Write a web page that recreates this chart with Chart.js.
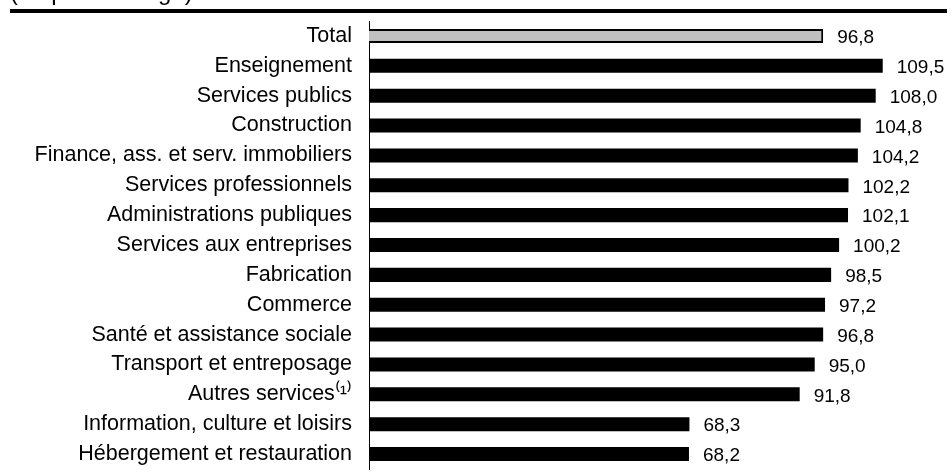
<!DOCTYPE html>
<html lang="fr">
<head>
<meta charset="utf-8">
<title>Indice par industrie</title>
<script src="https://cdn.jsdelivr.net/npm/chart.js@4.4.0/dist/chart.umd.min.js"></script>
<style>
    html, body { margin: 0; padding: 0; background: #fff; }
    #wrap { position: relative; width: 952px; height: 473px; }
</style>
</head>
<body>
<div id="wrap"><canvas id="chart"></canvas></div>
<script>
// Data
const titleText = '(en pourcentage)';
const categories = [
    'Total',
    'Enseignement',
    'Services publics',
    'Construction',
    'Finance, ass. et serv. immobiliers',
    'Services professionnels',
    'Administrations publiques',
    'Services aux entreprises',
    'Fabrication',
    'Commerce',
    'Santé et assistance sociale',
    'Transport et entreposage',
    'Autres services⁽¹⁾',
    'Information, culture et loisirs',
    'Hébergement et restauration'
];
const values = [96.8, 109.5, 108.0, 104.8, 104.2, 102.2, 102.1, 100.2, 98.5, 97.2, 96.8, 95.0, 91.8, 68.3, 68.2];

const FONT = "'Liberation Sans', Arial, sans-serif";

// Title (cut off at the top) and thick rule under it
const headerPlugin = {
    id: 'header',
    beforeDraw(chart) {
        const ctx = chart.ctx;
        ctx.save();
        ctx.fillStyle = '#000';
        ctx.font = '24px ' + FONT;
        ctx.textBaseline = 'alphabetic';
        ctx.textAlign = 'left';
        ctx.fillText(titleText, 10, 0);
        ctx.fillRect(10, 9, 937, 4);
        ctx.restore();
    }
};

// Value labels at the end of each bar, French decimal comma
const valueLabels = {
    id: 'valueLabels',
    afterDatasetsDraw(chart) {
        const ctx = chart.ctx;
        const meta = chart.getDatasetMeta(0);
        ctx.save();
        ctx.fillStyle = '#000';
        ctx.font = '19px ' + FONT;
        ctx.textBaseline = 'middle';
        ctx.textAlign = 'left';
        meta.data.forEach((bar, i) => {
            const txt = values[i].toFixed(1).replace('.', ',');
            ctx.fillText(txt, bar.x + 14, bar.y + 2);
        });
        ctx.restore();
    }
};

document.addEventListener('DOMContentLoaded', () => {
    const ctx = document.getElementById('chart').getContext('2d');
    new Chart(ctx, {
        type: 'bar',
        data: {
            labels: categories,
            datasets: [{
                data: values,
                backgroundColor: values.map((v, i) => i === 0 ? '#c0c0c0' : '#000000'),
                borderColor: '#000000',
                borderWidth: values.map((v, i) => i === 0 ? 2 : 0),
                barPercentage: 0.47,
                categoryPercentage: 1
            }]
        },
        options: {
            indexAxis: 'y',
            responsive: true,
            maintainAspectRatio: false,
            animation: false,
            layout: {
                padding: { top: 21, bottom: 4, left: 0, right: 20 }
            },
            plugins: {
                legend: { display: false },
                tooltip: { enabled: false }
            },
            scales: {
                x: {
                    display: false,
                    min: 0,
                    max: 120
                },
                y: {
                    afterFit(scale) {
                        scale.width = 369;
                        // tick padding should not push the plot down
                        scale.paddingTop = 0;
                        scale.paddingBottom = 0;
                    },
                    grid: { display: false, drawTicks: false },
                    border: { display: true, color: '#000', width: 1 },
                    ticks: {
                        color: '#000',
                        padding: 17,
                        font: { family: FONT, size: 21.5 }
                    }
                }
            }
        },
        plugins: [headerPlugin, valueLabels]
    });
});
</script>
</body>
</html>
